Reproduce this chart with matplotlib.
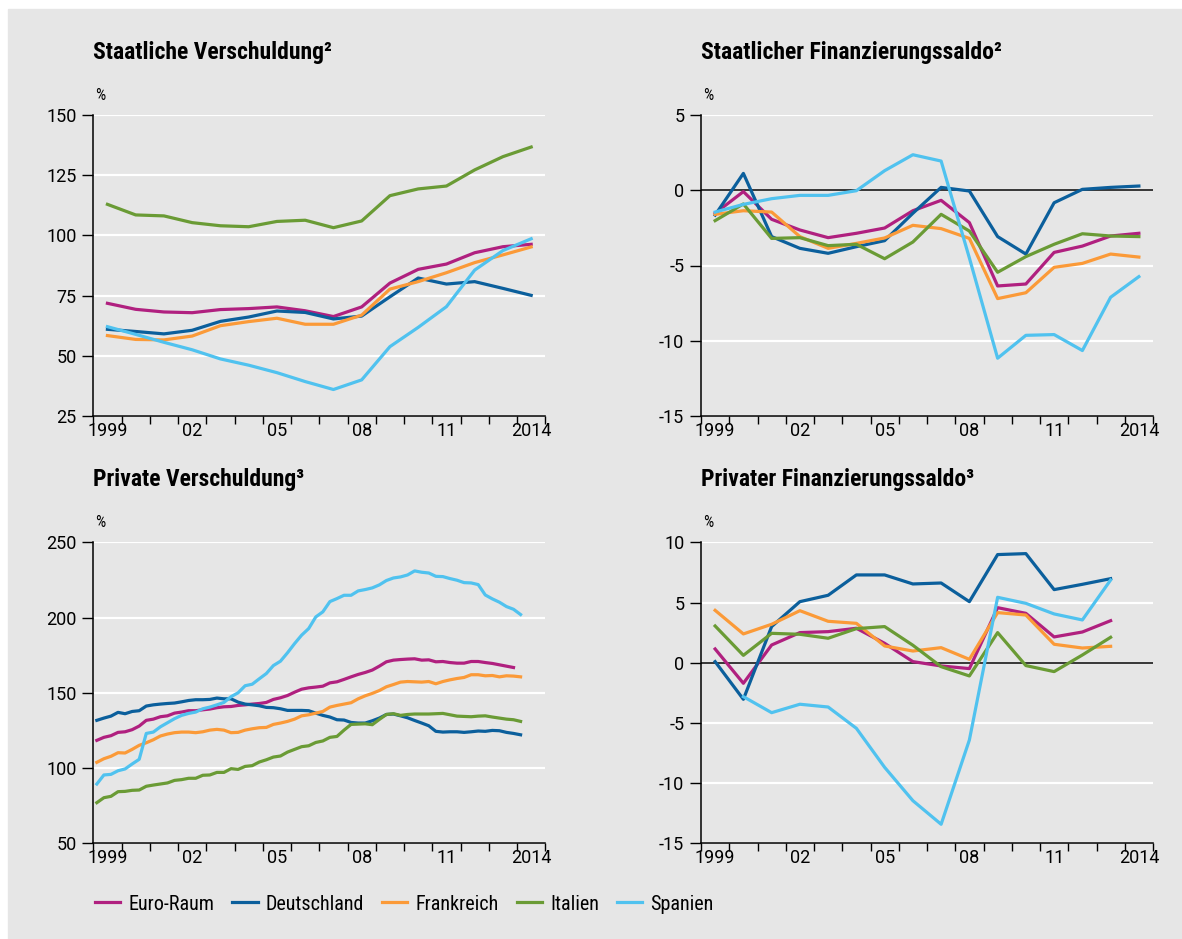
## Verschuldung und Finanzierungssalden im Euro-Raum

import numpy as np
import matplotlib
matplotlib.use('Agg')
import matplotlib.pyplot as plt
from matplotlib import font_manager
from matplotlib.patches import Rectangle

# schrift aussuchen (schmal, falls vorhanden)
namen = set(f.name for f in font_manager.fontManager.ttflist)
schrift = 'DejaVu Sans'
for s in ['Liberation Sans Narrow', 'Roboto Condensed', 'Roboto', 'Liberation Sans']:
    if s in namen:
        schrift = s
        break
plt.rcParams['font.family'] = [schrift, 'DejaVu Sans']
plt.rcParams['axes.unicode_minus'] = False
zahl_schrift = 'Roboto' if 'Roboto' in namen else schrift

## Daten
laender = ['Euro-Raum', 'Deutschland', 'Frankreich', 'Italien', 'Spanien']
farben = ['#b0207f', '#0b5f9c', '#fb9a38', '#6a9b35', '#50c2ef']

jahre = np.arange(1999, 2015)        # 1999-2014
jahre_priv = np.arange(1999, 2014)   # 1999-2013

# Staatliche Verschuldung (% BIP)
euro_debt = [71.8, 69.3, 68.2, 67.9, 69.2, 69.6, 70.3, 68.7, 66.3, 70.3, 80.2, 85.9, 88.1, 92.8, 95.3, 96.3]
de_debt = [61.0, 60.1, 59.1, 60.6, 64.3, 66.1, 68.6, 68.0, 65.3, 66.5, 74.5, 82.3, 79.8, 80.8, 78.0, 75.1]
fr_debt = [58.4, 56.8, 56.6, 58.2, 62.5, 64.2, 65.6, 63.1, 63.1, 66.9, 77.7, 80.8, 84.5, 88.7, 91.9, 95.2]
it_debt = [112.9, 108.5, 108.1, 105.3, 104.0, 103.6, 105.8, 106.3, 103.2, 106.0, 116.5, 119.3, 120.5, 127.2, 132.7, 136.7]
es_debt = [62.1, 58.9, 55.6, 52.5, 48.7, 46.1, 43.0, 39.3, 36.0, 40.0, 53.8, 61.8, 70.4, 85.6, 93.7, 98.6]

# Staatlicher Finanzierungssaldo
euro_bal = [-1.53, -0.09, -1.93, -2.64, -3.15, -2.86, -2.51, -1.36, -0.67, -2.15, -6.36, -6.23, -4.13, -3.71, -3.04, -2.86]
de_bal = [-1.65, 1.12, -3.08, -3.86, -4.19, -3.75, -3.35, -1.53, 0.19, -0.05, -3.08, -4.24, -0.83, 0.06, 0.19, 0.28]
fr_bal = [-1.60, -1.36, -1.45, -3.08, -3.86, -3.53, -3.17, -2.33, -2.55, -3.20, -7.20, -6.81, -5.12, -4.86, -4.24, -4.44]
it_bal = [-2.02, -0.91, -3.20, -3.15, -3.68, -3.59, -4.55, -3.44, -1.60, -2.71, -5.45, -4.41, -3.59, -2.89, -3.04, -3.08]
es_bal = [-1.45, -0.94, -0.56, -0.34, -0.34, -0.03, 1.30, 2.36, 1.94, -4.50, -11.16, -9.64, -9.59, -10.65, -7.11, -5.74]

# Private Verschuldung, quartalsweise ab 1999 Q1
euro_pd = [118.4, 120.4, 121.5, 123.7, 124.1, 125.5, 127.9, 131.7, 132.5, 134.1, 134.7, 136.5, 137.2, 138.1, 138.1, 138.7,
           139.2, 140.1, 140.7, 140.9, 141.6, 142.0, 142.5, 142.9, 143.6, 145.6, 146.7, 148.2, 150.4, 152.4, 153.3,
           153.8, 154.4, 156.6, 157.3, 158.9, 160.6, 162.2, 163.5, 165.1, 167.7, 170.6, 171.7, 172.1, 172.4, 172.6,
           171.7, 171.9, 170.6, 170.8, 170.1, 169.7, 169.7, 170.8, 170.8, 170.1, 169.5, 168.6, 167.7, 166.8]
de_pd = [131.7, 133.2, 134.5, 137.0, 136.1, 137.6, 138.1, 141.2, 142.0, 142.5, 142.9, 143.2, 144.0, 144.9, 145.4, 145.4,
         145.6, 146.5, 146.0, 146.0, 143.8, 142.5, 142.0, 141.4, 140.3, 140.1, 139.4, 138.3, 138.3, 138.3, 138.1,
         136.5, 135.0, 133.9, 132.1, 131.9, 130.3, 129.9, 129.9, 131.4, 133.2, 135.6, 135.9, 134.7, 133.4, 131.6,
         129.9, 128.1, 124.4, 123.9, 124.1, 124.1, 123.7, 124.1, 124.6, 124.4, 125.0, 124.8, 123.7, 123.0, 122.1]
fr_pd = [103.8, 106.2, 107.8, 110.2, 110.0, 112.4, 115.1, 116.8, 118.8, 121.3, 122.6, 123.5, 123.9, 123.9, 123.5, 124.1,
         125.2, 125.7, 125.2, 123.5, 123.7, 125.2, 126.1, 126.8, 127.0, 129.0, 129.9, 131.0, 132.5, 134.7, 135.4,
         136.5, 137.6, 140.5, 141.6, 142.5, 143.4, 146.0, 148.0, 149.6, 151.5, 154.0, 155.5, 157.1, 157.5, 157.3,
         157.1, 157.5, 156.0, 157.5, 158.6, 159.5, 160.2, 162.0, 162.0, 161.3, 161.5, 160.6, 161.3, 161.1, 160.6]
it_pd = [77.0, 80.3, 81.2, 84.3, 84.5, 85.2, 85.4, 87.9, 88.7, 89.4, 90.1, 91.8, 92.3, 93.2, 93.2, 95.2,
         95.4, 97.1, 97.1, 99.6, 99.1, 101.1, 101.6, 104.0, 105.5, 107.3, 108.0, 110.6, 112.4, 114.2, 114.8,
         117.0, 118.0, 120.4, 121.0, 125.2, 129.0, 129.2, 129.4, 128.8, 132.3, 135.6, 136.1, 135.0, 135.6, 135.9,
         135.9, 135.9, 136.1, 136.3, 135.4, 134.5, 134.3, 134.1, 134.5, 134.7, 133.9, 133.2, 132.5, 132.1, 131.0]
es_pd = [89.4, 95.4, 95.8, 98.2, 99.4, 102.7, 105.8, 123.0, 123.9, 127.4, 130.1, 132.8, 135.0, 136.3, 137.2, 139.4,
         140.5, 142.0, 143.6, 147.4, 150.0, 154.7, 155.7, 159.3, 162.8, 168.1, 171.0, 176.6, 182.7, 188.3, 192.7,
         200.4, 203.8, 210.6, 212.6, 214.8, 214.8, 217.7, 218.6, 219.7, 221.7, 224.6, 226.3, 227.0, 228.3, 231.0,
         230.1, 229.6, 227.4, 227.2, 225.9, 224.8, 223.2, 223.0, 221.9, 215.0, 212.4, 210.2, 207.3, 205.5, 202.0]

# Privater Finanzierungssaldo (Spanien 1999 fehlt)
euro_priv = [1.14, -1.71, 1.47, 2.50, 2.58, 2.86, 1.61, 0.09, -0.27, -0.49, 4.57, 4.10, 2.14, 2.55, 3.49]
de_priv = [0.09, -3.04, 3.00, 5.07, 5.60, 7.29, 7.29, 6.54, 6.62, 5.07, 8.98, 9.06, 6.07, 6.51, 6.98]
fr_priv = [4.35, 2.39, 3.19, 4.32, 3.44, 3.27, 1.39, 0.97, 1.25, 0.28, 4.16, 3.96, 1.53, 1.22, 1.36]
it_priv = [3.05, 0.61, 2.44, 2.36, 2.03, 2.83, 3.00, 1.45, -0.33, -1.10, 2.50, -0.24, -0.74, 0.64, 2.11]
es_priv = [np.nan, -2.82, -4.15, -3.45, -3.68, -5.45, -8.69, -11.46, -13.42, -6.42, 5.43, 4.93, 4.05, 3.55, 6.87]

## Figur
W, H = 1182, 939
fig = plt.figure(figsize=(W / 100, H / 100), dpi=100)
fig.patch.set_facecolor('white')
grau = '#e6e6e6'
fig.add_artist(Rectangle((8 / W, 0), 1, 1 - 9 / H, transform=fig.transFigure, color=grau, zorder=-10))


def px(x, y):
    return x / W, 1 - y / H


def panel(links, oben, titel, yticks, ylim, null=False):
    x0, y1 = px(links, oben)
    ax = fig.add_axes([x0, y1 - 301 / H, 452 / W, 301 / H])
    ax.set_facecolor(grau)
    ax.set_xlim(1999, 2015)
    ax.set_ylim(*ylim)
    ax.set_yticks(yticks)
    ax.set_xticks(np.arange(1999, 2016))
    ax.set_xticklabels([])
    lab_j = [1999, 2002, 2005, 2008, 2011, 2014]
    ax.set_xticks([j + 0.5 for j in lab_j], minor=True)
    ax.set_xticklabels(['1999', '02', '05', '08', '11', '2014'], minor=True)
    ax.tick_params(axis='x', which='major', length=6, width=1)
    ax.tick_params(axis='x', which='minor', length=0, pad=4, labelsize=13)
    ax.tick_params(axis='y', length=8, width=1, pad=4, labelsize=13)
    for lab in ax.get_xticklabels(minor=True) + ax.get_yticklabels():
        lab.set_fontfamily(zahl_schrift)
    for s in ['top', 'right']:
        ax.spines[s].set_visible(False)
    for s in ['left', 'bottom']:
        ax.spines[s].set_linewidth(1.1)
    ax.grid(axis='y', color='white', linewidth=1.6)
    ax.set_axisbelow(True)
    if null:
        ax.axhline(0, color='black', linewidth=1.1, zorder=1)
    tx, ty = px(links, oben - 63)
    fig.text(tx, ty, titel, fontsize=17, fontweight='bold', va='center', ha='left')
    tx, ty = px(links + 2, oben - 20)
    fig.text(tx, ty, '%', fontsize=11.5, va='center', ha='left')
    return ax


ax1 = panel(93.3, 115, 'Staatliche Verschuldung²', [25, 50, 75, 100, 125, 150], (25, 150))
ax2 = panel(701, 115, 'Staatlicher Finanzierungssaldo²', [-15, -10, -5, 0, 5], (-15, 5), null=True)
ax3 = panel(93.3, 542.3, 'Private Verschuldung³', [50, 100, 150, 200, 250], (50, 250))
ax4 = panel(701, 542.3, 'Privater Finanzierungssaldo³', [-15, -10, -5, 0, 5, 10], (-15, 10), null=True)

lw = 2.3
xj = jahre + 0.5
xp = jahre_priv + 0.5
for werte, f in zip([euro_debt, de_debt, fr_debt, it_debt, es_debt], farben):
    ax1.plot(xj, werte, color=f, lw=lw)
for werte, f in zip([euro_bal, de_bal, fr_bal, it_bal, es_bal], farben):
    ax2.plot(xj, werte, color=f, lw=lw)
for werte, f in zip([euro_pd, de_pd, fr_pd, it_pd, es_pd], farben):
    xq = 1999 + (np.arange(len(werte)) + 0.5) / 4
    ax3.plot(xq, werte, color=f, lw=lw)
linien = []
for werte, f in zip([euro_priv, de_priv, fr_priv, it_priv, es_priv], farben):
    l, = ax4.plot(xp, werte, color=f, lw=lw)
    linien.append(l)

fig.legend(linien, laender, loc='center left', bbox_to_anchor=px(95, 904), ncol=5,
           frameon=False, fontsize=14.5, handlelength=1.25, handletextpad=0.4, columnspacing=0.9,
           borderaxespad=0, borderpad=0)

fig.savefig('out.png', dpi=100, facecolor=fig.get_facecolor())
